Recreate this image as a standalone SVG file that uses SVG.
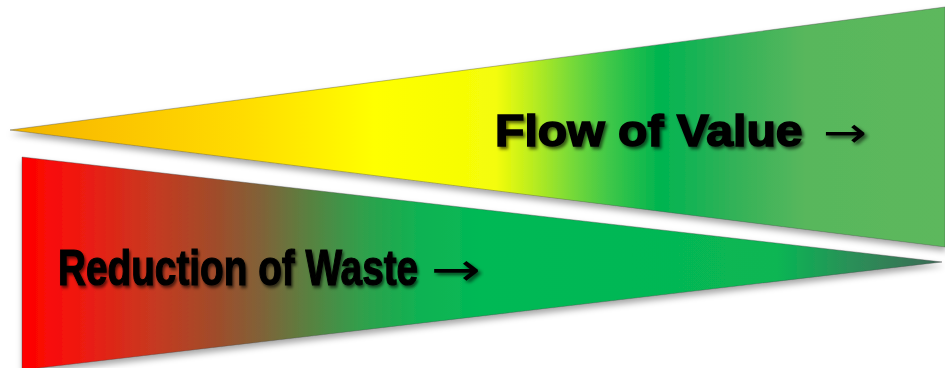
<svg xmlns="http://www.w3.org/2000/svg" width="945" height="368" viewBox="0 0 945 368">
  <defs>
    <linearGradient id="gTop" gradientUnits="userSpaceOnUse" x1="10" y1="0" x2="945" y2="0">
      <stop offset="0" stop-color="#f0b400"/>
      <stop offset="0.1" stop-color="#fbc200"/>
      <stop offset="0.25" stop-color="#ffdc00"/>
      <stop offset="0.34" stop-color="#fff200"/>
      <stop offset="0.39" stop-color="#ffff00"/>
      <stop offset="0.52" stop-color="#f4fc08"/>
      <stop offset="0.56" stop-color="#b8ec20"/>
      <stop offset="0.6" stop-color="#78da38"/>
      <stop offset="0.64" stop-color="#40c848"/>
      <stop offset="0.695" stop-color="#00b450"/>
      <stop offset="0.77" stop-color="#30b258"/>
      <stop offset="0.85" stop-color="#58b75c"/>
      <stop offset="1" stop-color="#5db85d"/>
    </linearGradient>
    <linearGradient id="gBot" gradientUnits="userSpaceOnUse" x1="22" y1="0" x2="942" y2="0">
      <stop offset="0" stop-color="#ff0000"/>
      <stop offset="0.06" stop-color="#f01810"/>
      <stop offset="0.14" stop-color="#c83820"/>
      <stop offset="0.21" stop-color="#a04c2a"/>
      <stop offset="0.26" stop-color="#806238"/>
      <stop offset="0.31" stop-color="#5a8040"/>
      <stop offset="0.37" stop-color="#30a04c"/>
      <stop offset="0.43" stop-color="#10b252"/>
      <stop offset="0.5" stop-color="#02b955"/>
      <stop offset="0.82" stop-color="#08b653"/>
      <stop offset="0.9" stop-color="#2a9058"/>
      <stop offset="1" stop-color="#3c6a56"/>
    </linearGradient>
    <filter id="shapeShadow" x="-5%" y="-10%" width="110%" height="125%">
      <feDropShadow dx="1" dy="4" stdDeviation="3" flood-color="#000" flood-opacity="0.35"/>
    </filter>
    <filter id="textShadow" x="-5%" y="-20%" width="110%" height="150%">
      <feDropShadow dx="2" dy="2.5" stdDeviation="1.5" flood-color="#000" flood-opacity="0.6"/>
    </filter>
    <style>
      .wedge { stroke: #4a4a4a; stroke-opacity: 0.5; stroke-width: 0.8; filter: url(#shapeShadow); }
      .lbl { font-family: "Liberation Sans", Arial, sans-serif; font-weight: bold; fill: #000; stroke: #000; filter: url(#textShadow); }
      .arr { font-family: "DejaVu Sans", sans-serif; fill: #000; filter: url(#textShadow); }
    </style>
  </defs>
  <g id="flow-of-value">
    <polygon class="wedge" points="10,130 945,7 945,247" fill="url(#gTop)"/>
    <text class="lbl" transform="translate(495,146) scale(1.07,1)" x="0" y="0" font-size="45" stroke-width="1.6">Flow of Value</text>
    <text class="arr" transform="translate(823,147) scale(1.25,1)" x="0" y="0" font-size="42">→</text>
  </g>
  <g id="reduction-of-waste">
    <polygon class="wedge" points="22,157 942,262 22,370" fill="url(#gBot)"/>
    <text class="lbl" transform="translate(58,285) scale(0.775,1)" x="0" y="0" font-size="50" stroke-width="1.2">Reduction of Waste</text>
    <text class="arr" transform="translate(431,285) scale(1.3,1)" x="0" y="0" font-size="46">→</text>
  </g>
  <g id="connectors"/>
</svg>
